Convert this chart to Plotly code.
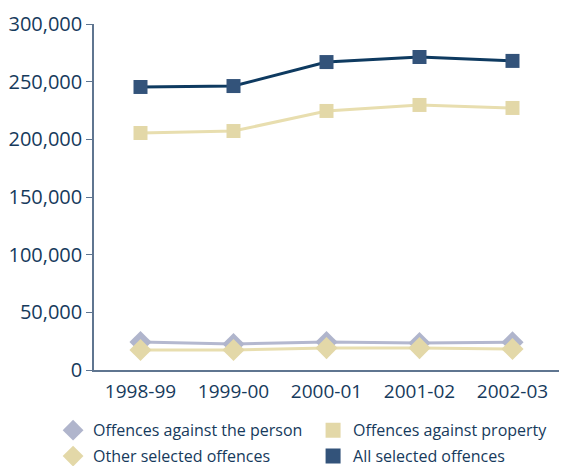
import plotly.graph_objects as go

years = ["1998-99", "1999-00", "2000-01", "2001-02", "2002-03"]
person = [24300, 22500, 24300, 23400, 24000]
property_ = [205500, 207200, 224600, 229800, 227200]
other = [17300, 17300, 19000, 19000, 18200]
all_sel = [245400, 246200, 267000, 271400, 268000]

y_ticks = [0, 50000, 100000, 150000, 200000, 250000, 300000]
y_labels = ["0", "50,000", "100,000", "150,000", "200,000", "250,000", "300,000"]

TEXT = "#163a5c"
AXIS = "#5f7590"

# name, values, line colour, marker symbol, marker size, marker colour, legend row
series = [
    ("Offences against the person", person, "#b4b8cf", "diamond", 17, "#b0b5cc", "legend"),
    ("Offences against property", property_, "#e8deaf", "square", 14, "#e3d8a8", "legend"),
    ("Other selected offences", other, "#e8deaf", "diamond", 17, "#e3d8a8", "legend2"),
    ("All selected offences", all_sel, "#0e3a60", "square", 14, "#33537a", "legend2"),
]

fig = go.Figure()
for name, vals, lcol, sym, size, mcol, leg in series:
    # data line with markers
    fig.add_trace(go.Scatter(
        x=years, y=vals, name=name, mode="lines+markers", showlegend=False,
        line=dict(color=lcol, width=3),
        marker=dict(symbol=sym, size=size, color=mcol)))
    # marker-only legend entry
    fig.add_trace(go.Scatter(
        x=[None], y=[None], name=name, mode="markers", showlegend=True, legend=leg,
        marker=dict(symbol=sym, size=size + 1, color=mcol)))

legend_common = dict(orientation="h", x=-0.088, xanchor="left", yanchor="top",
                     entrywidth=215, entrywidthmode="pixels", bgcolor="rgba(0,0,0,0)",
                     font=dict(size=16, color=TEXT), itemsizing="trace")

fig.update_layout(
    width=562, height=466,
    margin=dict(l=94, r=3, t=24, b=96, autoexpand=False),
    paper_bgcolor="white", plot_bgcolor="white",
    font=dict(family="Open Sans", color=TEXT),
    showlegend=True,
    legend=dict(y=-0.125, **legend_common),
    legend2=dict(y=-0.2, **legend_common),
    xaxis=dict(type="category", range=[-0.5, 4.5], showline=True, linecolor=AXIS,
               linewidth=1.5, ticks="", showgrid=False, zeroline=False,
               ticklabelstandoff=3, tickfont=dict(size=19, color=TEXT)),
    yaxis=dict(range=[0, 300000], tickvals=y_ticks, ticktext=y_labels,
               showline=True, linecolor=AXIS, linewidth=1.5, ticks="outside",
               ticklen=6, tickcolor=AXIS, showgrid=False, zeroline=False,
               tickfont=dict(size=20, color=TEXT)),
)

fig.write_html("out.html")
